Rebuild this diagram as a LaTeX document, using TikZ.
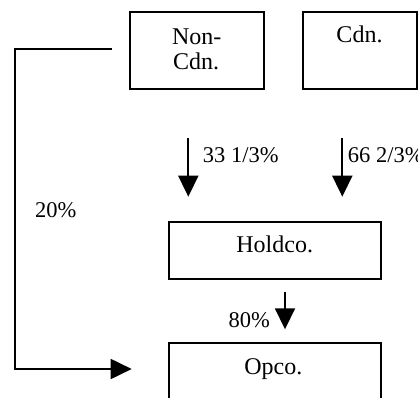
\documentclass[tikz,border=0pt]{standalone}
\usepackage{fontspec}
\setmainfont{Liberation Serif}
\usetikzlibrary{arrows.meta}
\begin{document}
\begin{tikzpicture}[x=1pt,y=-1pt,
  box/.style={draw=black,line width=2pt,rectangle,inner sep=0pt},
  txt/.style={inner sep=0pt,font=\fontsize{22.5}{27}\selectfont},
  btxt/.style={inner sep=0pt,font=\fontsize{24}{29}\selectfont},
  conn/.style={line width=1.8pt,-{Triangle[length=21pt,width=20pt]}}]
\useasboundingbox (0,0) rectangle (418,398);
\clip (0,0) rectangle (418,398);
% boxes
\node[box,minimum width=134.3pt,minimum height=77.3pt] (noncdn) at (197.2,50.4) {};
\node[box,minimum width=113.4pt,minimum height=77.3pt] (cdn) at (360,50.4) {};
\node[box,minimum width=211.7pt,minimum height=57pt] (holdco) at (274.9,250.8) {};
\node[box,minimum width=212pt,minimum height=57pt] (opco) at (274.7,371.2) {};
% box texts
\node[btxt,anchor=base] (t1) at (196.7,44.3) {Non-};
\node[btxt,anchor=base] (t2) at (196.2,70) {Cdn.};
\node[btxt,anchor=base] (t3) at (359.5,42.7) {Cdn.};
\node[btxt,anchor=base] (t4) at (274.7,253) {Holdco.};
\node[btxt,anchor=base] (t5) at (273.3,374) {Opco.};
% labels
\node[txt,anchor=base west] (l1) at (202.7,163) {33 1/3\%};
\node[txt,anchor=base west] (l2) at (347.7,163) {66 2/3\%};
\node[txt,anchor=base west] (l3) at (35,218) {20\%};
\node[txt,anchor=base west] (l4) at (228.3,327) {80\%};
% connector coordinates
\coordinate (a1s) at (188.3,138.3);
\coordinate (a1e) at (188.3,196.7);
\coordinate (a2s) at (342.3,138.3);
\coordinate (a2e) at (342.3,196.7);
\coordinate (a3s) at (285,291.7);
\coordinate (a3e) at (285,329.3);
\coordinate (ls) at (112.3,49.3);
\coordinate (lc1) at (15,49.3);
\coordinate (lc2) at (15,369);
\coordinate (le) at (131.7,369);
% connectors
\draw[conn] (a1s) -- (a1e);
\draw[conn] (a2s) -- (a2e);
\draw[conn] (a3s) -- (a3e);
\draw[conn] (ls) -- (lc1) -- (lc2) -- (le);
\end{tikzpicture}
\end{document}
